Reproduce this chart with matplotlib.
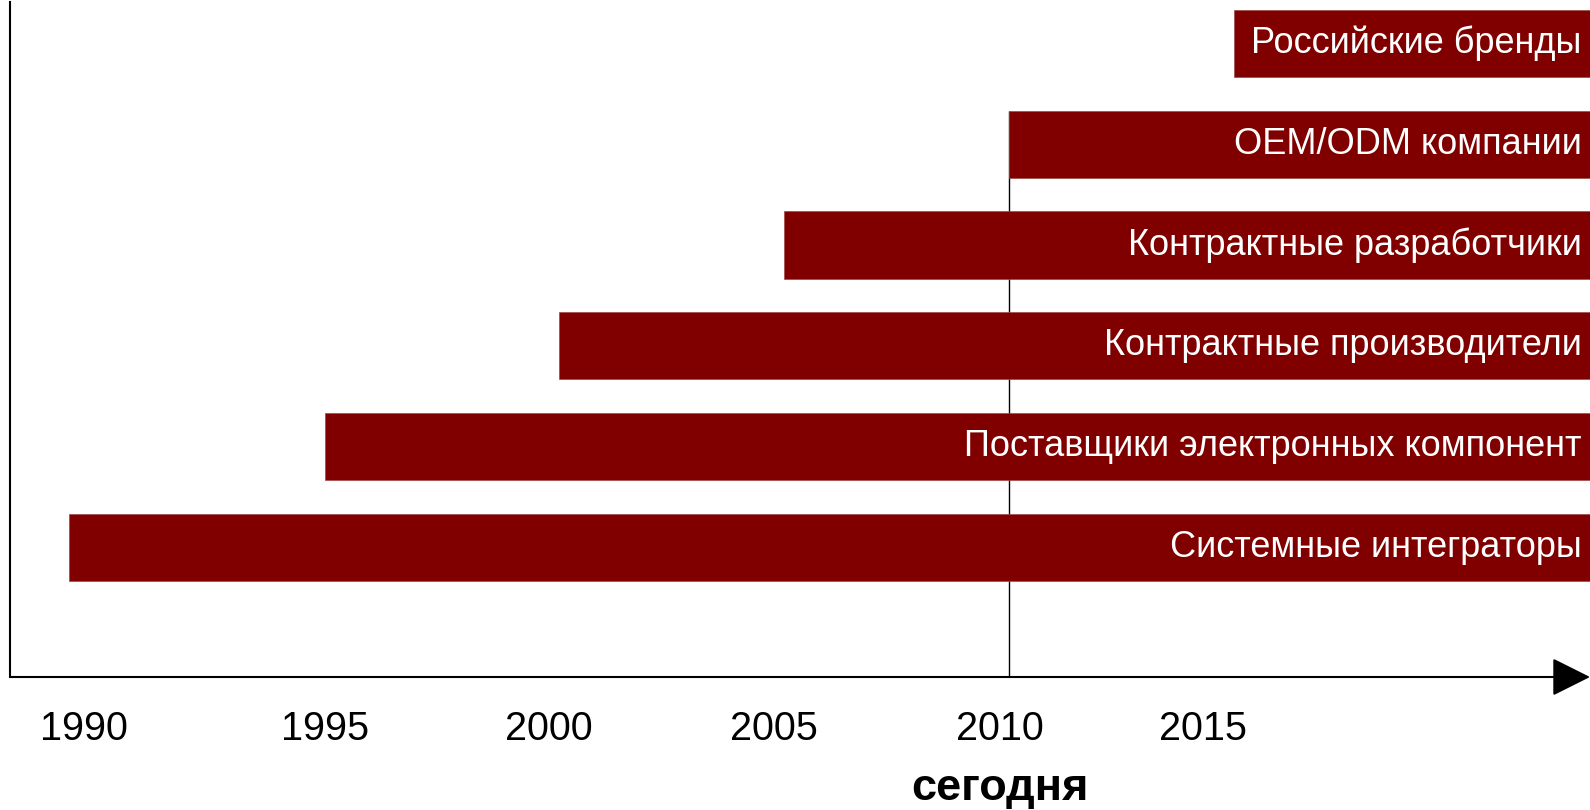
import matplotlib.pyplot as plt
from matplotlib.transforms import blended_transform_factory

plt.rcParams['font.family'] = ['Liberation Sans', 'DejaVu Sans']

# data
labels = ['Системные интеграторы', 'Поставщики электронных компонент',
          'Контрактные производители', 'Контрактные разработчики',
          'OEM/ODM компании', 'Российские бренды']
start_year = [1989.1, 1994.8, 2000.0, 2005.0, 2010.0, 2015.0]
end_year = 2022.9
tick_years = ['1990', '1995', '2000', '2005', '2010', '2015']
today = 2010

tick_pos = [1989.45, 1994.8, 1999.76, 2004.76, 2009.8, 2014.3]
x_min = 1987.8
bar_color = '#800000'

fig = plt.figure(figsize=(15.9, 8.1), dpi=100)
ax = fig.add_axes([10 / 1590, 133 / 810, 1580 / 1590, 675 / 810])

y = list(range(len(labels)))
widths = [end_year - s for s in start_year]
ax.barh(y, widths, left=start_year, height=0.665, color=bar_color,
        edgecolor='#a04848', linewidth=0.5, zorder=3)

for yi, lab in zip(y, labels):
    ax.annotate(lab, xy=(end_year, yi), xytext=(-6, 0), textcoords='offset points',
                ha='right', va='center', color='white', fontsize=26, zorder=4)

ax.set_xlim(x_min, end_year)
ax.set_ylim(-1.285, 5.41)

# "today" line
ax.vlines(today, -1.285, 4 + 0.3325, color='black', linewidth=1.0, zorder=2)

for s in ['top', 'right', 'bottom']:
    ax.spines[s].set_visible(False)
ax.spines['left'].set_linewidth(1.5)
ax.set_yticks([])

ax.set_xticks(tick_pos)
ax.set_xticklabels(tick_years, fontsize=28.5)
ax.tick_params(axis='x', length=0, pad=24)

# bottom axis with arrow
ax.annotate('', xy=(1.0, 0), xytext=(0, 0), xycoords='axes fraction',
            textcoords='axes fraction', annotation_clip=False,
            arrowprops=dict(arrowstyle='-|>', color='black', lw=1.5,
                            mutation_scale=60, shrinkA=0, shrinkB=0))

trans = blended_transform_factory(ax.transData, fig.transFigure)
ax.text(today - 0.2, (810 - 800) / 810, 'сегодня', transform=trans,
        ha='center', va='baseline', fontsize=32.5, fontweight='bold')

fig.savefig('out.png', dpi=100)
